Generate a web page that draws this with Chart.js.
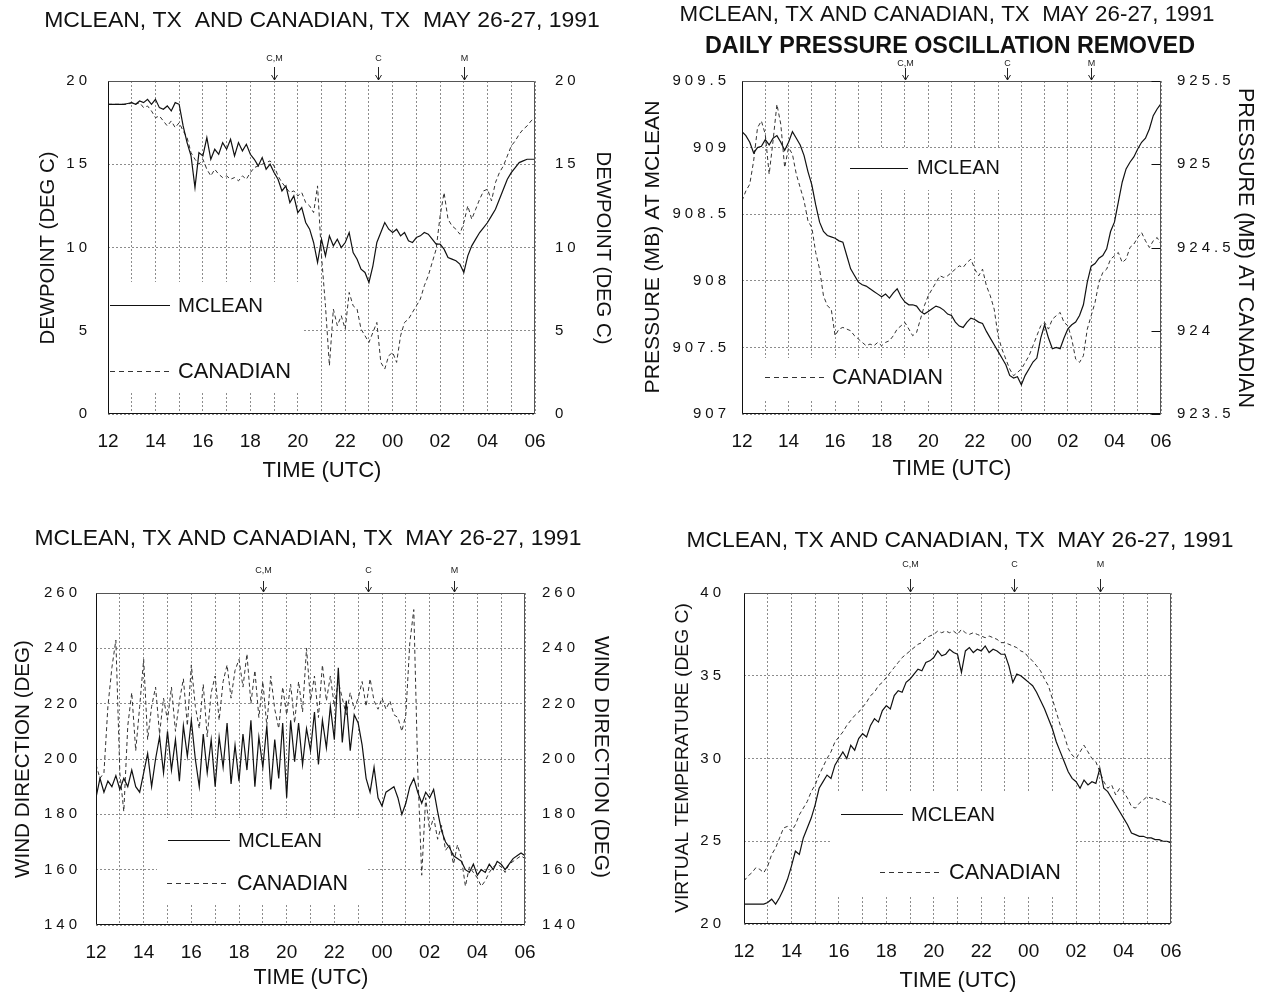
<!DOCTYPE html>
<html lang="en">
<head>
<meta charset="utf-8" />
<meta name="viewport" content="width=device-width" />
<title>McLean, TX and Canadian, TX - May 26-27, 1991</title>
<script src="https://cdn.jsdelivr.net/npm/chart.js@4.4.1/dist/chart.umd.min.js"></script>
<style>
  html, body { margin: 0; padding: 0; background: #fff; }
  #wrap { position: relative; width: 1268px; height: 993px; overflow: hidden; }
  #wrap canvas { position: absolute; left: 0; top: 0; }
</style>
</head>
<body>
<div id="wrap">
  <canvas id="cDew" width="1268" height="993"></canvas>
  <canvas id="cPres" width="1268" height="993"></canvas>
  <canvas id="cDir" width="1268" height="993"></canvas>
  <canvas id="cTv" width="1268" height="993"></canvas>
</div>

<script>
// sampling: one value every 10 minutes from 12 UTC (26 May) to 06 UTC (27 May)
const SAMPLE_START = 12;
const SAMPLE_STEP = 1 / 6;

const seriesNames = ['MCLEAN', 'CANADIAN'];

const xTickLabels = ['12', '14', '16', '18', '20', '22', '00', '02', '04', '06'];
const dewTickLabels = ['0', '5', '10', '15', '20'];
const presMcTickLabels = ['907', '907.5', '908', '908.5', '909', '909.5'];
const presCaTickLabels = ['923.5', '924', '924.5', '925', '925.5'];
const dirTickLabels = ['140', '160', '180', '200', '220', '240', '260'];
const tvTickLabels = ['20', '25', '30', '35', '40'];

// arrows along the top edge (hours after 00 UTC May 26)
const markTimes = [19, 23.4, 27];
const markLabels = ['C,M', 'C', 'M'];

// dewpoint (deg C)
const mcDew = [
  18.6, 18.6, 18.6, 18.6, 18.6, 18.65,
  18.7, 18.6, 18.8, 18.7, 18.9, 18.6,
  18.9, 18.4, 18.3, 18.5, 18.2, 18.7,
  18.6, 17.3, 16.3, 15.5, 13.6, 15.7,
  15.5, 16.6, 15.3, 15.9, 15.6, 16.3,
  15.9, 16.5, 15.5, 16.3, 15.8, 16.2,
  15.6, 15.3, 14.9, 15.4, 14.7, 15.0,
  14.5, 14.1, 13.4, 13.7, 12.7, 13.1,
  12.1, 12.4, 11.5, 11.1, 10.3, 9.1,
  10.5, 9.5, 10.7, 10.1, 10.5, 10.0,
  10.3, 10.9, 9.7, 9.3, 8.7, 8.5,
  7.9, 8.9, 10.3, 10.9, 11.5, 11.1,
  10.9, 11.1, 10.7, 10.9, 10.4, 10.3,
  10.6, 10.7, 10.9, 10.8, 10.5, 10.2,
  10.2, 9.9, 9.4, 9.3, 9.2, 9.0,
  8.5, 9.5, 10.1, 10.5, 10.9, 11.2,
  11.5, 11.9, 12.3, 12.9, 13.5, 14.1,
  14.5, 14.8, 15.1, 15.2, 15.3, 15.3,
  15.3
];
const caDew = [
  18.6, 18.6, 18.6, 18.6, 18.6, 18.6,
  18.7, 18.6, 18.7, 18.4, 18.5, 18.2,
  17.8, 17.9, 17.6, 17.3, 17.6, 17.2,
  17.5, 17.0, 16.6, 15.7, 15.3, 15.0,
  15.3, 14.7, 14.3, 14.7, 14.4, 14.2,
  14.3, 14.1, 14.2, 14.0, 14.3, 14.1,
  14.5, 14.8, 14.9, 15.0, 15.1, 15.2,
  14.9, 14.3, 13.9, 13.6, 13.3, 13.4,
  13.1, 13.3, 12.7, 12.5, 12.1, 13.7,
  9.5, 6.5, 2.9, 6.3, 5.3, 5.9,
  5.1, 7.3, 6.5, 6.3, 5.1, 4.7,
  4.3, 4.9, 5.5, 3.1, 2.7, 3.5,
  3.7, 3.1, 4.7, 5.5, 5.7, 6.1,
  6.5, 6.9, 7.7, 8.3, 9.1, 9.9,
  11.9, 13.3, 11.7, 11.3, 11.1, 10.8,
  11.5, 12.5, 11.7, 12.3, 12.9, 13.4,
  13.5, 12.8, 13.9, 14.5, 14.9, 15.5,
  16.1, 16.4, 16.8, 17.1, 17.3, 17.6,
  17.8
];

// pressure (mb), daily oscillation removed
const mcPres = [
  909.12, 909.09, 909.04, 908.96, 909.00, 909.01,
  909.06, 909.02, 909.07, 909.09, 909.04, 908.98,
  909.04, 909.12, 909.07, 909.02, 908.94, 908.82,
  908.72, 908.57, 908.44, 908.37, 908.34, 908.33,
  908.32, 908.30, 908.29, 908.19, 908.09, 908.04,
  907.99, 907.97, 907.96, 907.94, 907.92, 907.90,
  907.88, 907.90, 907.87, 907.91, 907.94, 907.88,
  907.84, 907.82, 907.82, 907.81, 907.77, 907.75,
  907.77, 907.79, 907.81, 907.80, 907.78, 907.75,
  907.74, 907.69, 907.66, 907.65, 907.69, 907.72,
  907.71, 907.69, 907.68, 907.62, 907.57, 907.52,
  907.47, 907.42, 907.37, 907.29, 907.27, 907.28,
  907.22, 907.29, 907.34, 907.39, 907.42, 907.57,
  907.67, 907.57, 907.49, 907.50, 907.49, 907.57,
  907.64, 907.67, 907.69, 907.74, 907.82, 907.99,
  908.11, 908.13, 908.17, 908.19, 908.24, 908.37,
  908.44, 908.59, 908.74, 908.84, 908.89, 908.93,
  908.99, 909.04, 909.07, 909.14, 909.24, 909.29,
  909.33
];
const caPres = [
  924.78, 924.84, 924.88, 925.02, 925.22, 925.26,
  925.18, 924.94, 925.14, 925.36, 925.24, 924.98,
  925.10, 925.06, 924.94, 924.86, 924.78, 924.66,
  924.62, 924.47, 924.37, 924.21, 924.15, 924.13,
  923.97, 924.01, 924.02, 924.01, 924.00, 923.97,
  923.95, 923.93, 923.91, 923.92, 923.91, 923.93,
  923.91, 923.93, 923.94, 923.97, 924.01, 924.03,
  924.05, 924.01, 923.97, 923.99, 924.07, 924.15,
  924.21, 924.25, 924.29, 924.33, 924.32, 924.33,
  924.35, 924.37, 924.39, 924.38, 924.41, 924.43,
  924.37, 924.33, 924.37, 924.27, 924.21, 924.13,
  923.97, 923.89, 923.83, 923.77, 923.73, 923.75,
  923.77, 923.81, 923.85, 923.91, 923.97, 924.03,
  924.05, 924.01, 924.07, 924.09, 924.11, 924.05,
  924.03, 923.95, 923.83, 923.81, 923.85, 924.01,
  924.09, 924.17, 924.29, 924.35, 924.37, 924.43,
  924.45, 924.47, 924.41, 924.43, 924.50, 924.52,
  924.56, 924.59, 924.54, 924.50, 924.54, 924.56,
  924.52
];

// wind direction (deg)
const mcDir = [
  186, 193, 188, 192, 190, 194,
  189, 193, 190, 196, 190, 188,
  195, 202, 190, 200, 208, 195,
  210, 196, 207, 192, 212, 201,
  214, 200, 190, 209, 195, 207,
  190, 208, 197, 213, 191, 205,
  192, 209, 196, 214, 190, 208,
  197, 212, 189, 207, 193, 213,
  186, 214, 199, 213, 198, 211,
  203, 217, 198, 214, 204, 219,
  207, 233, 206, 221, 203, 216,
  213, 205, 193, 188, 197, 186,
  183, 188, 189, 190, 186, 180,
  184, 190, 193, 188, 184, 188,
  186, 189, 181, 174, 170, 168,
  165, 164, 163, 160, 159, 162,
  158, 160, 159, 162, 160, 163,
  162, 160, 162, 164, 165, 166,
  165
];
const caDir = [
  198, 193, 195, 219, 233, 243,
  195, 181, 212, 224, 203, 219,
  236, 207, 219, 226, 209, 222,
  214, 226, 210, 221, 229, 212,
  234, 219, 211, 227, 208, 224,
  230, 214, 228, 234, 222, 232,
  236, 226, 238, 220, 232, 215,
  228, 212, 230, 218, 211, 226,
  216, 227, 213, 228, 217, 240,
  221, 230, 215, 234, 221, 230,
  219, 228, 222, 216, 224, 218,
  222, 228, 219, 229, 221, 218,
  222, 218, 221, 216, 215, 210,
  216, 242, 254, 196, 158, 186,
  174, 179, 171, 176, 167, 169,
  162, 169, 164, 154, 161, 159,
  157, 154, 156, 159, 161, 162,
  161, 159, 162, 163, 164, 165,
  164
];

// virtual temperature (deg C)
const mcTv = [
  21.2, 21.2, 21.2, 21.2, 21.2, 21.2,
  21.3, 21.5, 21.2, 21.6, 22.1, 22.7,
  23.5, 24.4, 24.2, 25.2, 25.8, 26.4,
  27.2, 28.2, 28.6, 29.0, 28.8, 29.6,
  30.0, 30.4, 30.0, 30.8, 30.5, 31.2,
  31.5, 31.3, 32.0, 32.4, 32.2, 32.9,
  33.2, 33.0, 33.8, 34.1, 34.0, 34.6,
  34.8, 35.1, 35.4, 35.3, 35.8, 35.9,
  36.1, 36.5, 36.2, 36.3, 36.6, 36.4,
  36.3, 35.2, 36.5, 36.7, 36.4, 36.6,
  36.5, 36.8, 36.4, 36.6, 36.5, 36.3,
  36.3, 35.6, 34.6, 35.1, 35.0, 34.8,
  34.6, 34.4, 34.0, 33.5, 33.0, 32.4,
  31.8, 31.0, 30.4, 29.8, 29.2, 28.8,
  28.6, 28.2, 28.7, 28.4, 28.6, 28.5,
  29.4, 28.2, 28.0, 27.6, 27.2, 26.8,
  26.4, 26.0, 25.5, 25.4, 25.3, 25.3,
  25.2, 25.2, 25.1, 25.1, 25.0, 25.0,
  24.9
];
const caTv = [
  22.6, 22.9, 23.1, 23.4, 23.3, 23.1,
  23.5, 24.2, 24.6, 25.2, 25.8, 25.9,
  25.6, 26.0, 26.6, 27.0, 27.4, 28.0,
  28.4, 29.0, 29.5, 30.0, 30.4, 31.0,
  31.3, 31.6, 32.0, 32.3, 32.6, 32.8,
  33.1, 33.4, 33.8, 34.0, 34.4, 34.6,
  34.9, 35.2, 35.5, 35.8, 36.1, 36.3,
  36.5, 36.7, 36.9, 37.0, 37.3, 37.4,
  37.5, 37.7, 37.6, 37.7, 37.6, 37.7,
  37.5, 37.8, 37.6, 37.5, 37.6, 37.5,
  37.4, 37.3, 37.4, 37.3, 37.2, 37.0,
  37.0, 36.9, 36.8, 36.7, 36.5, 36.4,
  36.1, 35.9, 35.6, 35.3, 34.8, 34.4,
  33.6, 32.8, 32.0, 31.4, 30.6, 30.2,
  30.0, 30.4, 30.8, 30.4, 30.0, 29.8,
  29.2, 28.6, 28.2, 28.4, 27.8, 28.2,
  28.0, 27.6, 27.1, 27.0, 27.3, 27.5,
  27.7, 27.6, 27.6, 27.5, 27.4, 27.3,
  27.2
];

const TITLE_A = 'MCLEAN, TX  AND CANADIAN, TX  MAY 26-27, 1991';
const TITLE_B = 'MCLEAN, TX AND CANADIAN, TX  MAY 26-27, 1991';

const FONT = '"Liberation Sans", Arial, Helvetica, sans-serif';
const W = 1268, H = 993;
const AXW = 90, AXH = 40;   // reserved width of y scales / height of x scale
const INK = '#111';
const GRID = '#8c8c8c';

function pts(arr) {
  return arr.map((v, i) => ({ x: SAMPLE_START + i * SAMPLE_STEP, y: v }));
}

// page layout of each panel (plot rectangle, text and legend placement)
const panels = [
  {
    id: 'cDew', plot: { l: 108, t: 81, r: 535, b: 414 },
    y: { min: 0, max: 20, step: 5, labels: dewTickLabels, pad: 17 },
    y2: { min: 0, max: 20, step: 5, labels: dewTickLabels, pad: 20 },
    series: [mcDew, caDew], caOnRight: false,
    arrow: { label: 22, shaft: 14 },
    texts: [
      { text: TITLE_A, cx: 322, cy: 20, w: 556 },
      { text: 'TIME (UTC)', cx: 322, cy: 470, w: 119 },
      { text: 'DEWPOINT (DEG C)', cx: 47, cy: 248, w: 193, rot: -1 },
      { text: 'DEWPOINT (DEG C)', cx: 604, cy: 248, w: 193, rot: 1 }
    ],
    legend: [
      { x1: 110, x2: 170, y: 305, dash: false, tx: 178, w: 85 },
      { x1: 110, x2: 170, y: 371, dash: true, tx: 178, w: 113 }
    ],
    blank: [[109, 282, 303, 393]]
  },
  {
    id: 'cPres', plot: { l: 742, t: 81, r: 1161, b: 414 },
    y: { min: 907, max: 909.5, step: 0.5, labels: presMcTickLabels, pad: 12 },
    y2: { min: 923.5, max: 925.5, step: 0.5, labels: presCaTickLabels, pad: 16 },
    series: [mcPres, caPres], caOnRight: true, inTicks: 9,
    arrow: { label: 17, shaft: 13 },
    texts: [
      { text: TITLE_B, cx: 947, cy: 14, w: 535 },
      { text: 'DAILY PRESSURE OSCILLATION REMOVED', cx: 950, cy: 46, w: 490, weight: 'bold' },
      { text: 'TIME (UTC)', cx: 952, cy: 468, w: 119 },
      { text: 'PRESSURE (MB) AT MCLEAN', cx: 652, cy: 247, w: 293, rot: -1 },
      { text: 'PRESSURE (MB) AT CANADIAN', cx: 1246, cy: 248, w: 320, rot: 1 }
    ],
    legend: [
      { x1: 850, x2: 908, y: 168, dash: false, tx: 917, w: 83 },
      { x1: 765, x2: 825, y: 377, dash: true, tx: 832, w: 111 }
    ],
    blank: [[838, 148, 1005, 190], [743, 358, 950, 400]]
  },
  {
    id: 'cDir', plot: { l: 96, t: 593, r: 525, b: 925 },
    y: { min: 140, max: 260, step: 20, labels: dirTickLabels, pad: 15 },
    y2: { min: 140, max: 260, step: 20, labels: dirTickLabels, pad: 17 },
    series: [mcDir, caDir], caOnRight: false,
    arrow: { label: 22, shaft: 12 },
    texts: [
      { text: TITLE_B, cx: 308, cy: 538, w: 547 },
      { text: 'TIME (UTC)', cx: 311, cy: 977, w: 115 },
      { text: 'WIND DIRECTION (DEG)', cx: 22, cy: 759, w: 238, rot: -1 },
      { text: 'WIND DIRECTION (DEG)', cx: 602, cy: 757, w: 242, rot: 1 }
    ],
    legend: [
      { x1: 168, x2: 230, y: 840, dash: false, tx: 238, w: 84 },
      { x1: 167, x2: 230, y: 883, dash: true, tx: 237, w: 111 }
    ],
    blank: [[157, 818, 367, 905]]
  },
  {
    id: 'cTv', plot: { l: 744, t: 593, r: 1171, b: 924 },
    y: { min: 20, max: 40, step: 5, labels: tvTickLabels, pad: 19 },
    y2: null,
    series: [mcTv, caTv], caOnRight: false,
    arrow: { label: 28, shaft: 14 },
    texts: [
      { text: TITLE_B, cx: 960, cy: 540, w: 547 },
      { text: 'TIME (UTC)', cx: 958, cy: 980, w: 117 },
      { text: 'VIRTUAL TEMPERATURE (DEG C)', cx: 682, cy: 758, w: 310, rot: -1 }
    ],
    legend: [
      { x1: 841, x2: 903, y: 814, dash: false, tx: 911, w: 84 },
      { x1: 880, x2: 941, y: 872, dash: true, tx: 949, w: 112 }
    ],
    blank: [[831, 792, 1075, 895]]
  }
];

function fitFont(ctx, text, weight, width) {
  ctx.font = weight + ' 20px ' + FONT;
  const size = 20 * width / ctx.measureText(text).width;
  ctx.font = weight + ' ' + size.toFixed(2) + 'px ' + FONT;
}

function decor(p) {
  return {
    id: 'decor',
    beforeDatasetsDraw(chart) {
      const ctx = chart.ctx;
      ctx.save();
      ctx.fillStyle = '#fff';
      p.blank.forEach(([x1, y1, x2, y2]) => ctx.fillRect(x1, y1, x2 - x1, y2 - y1));
      ctx.restore();
    },
    afterDatasetsDraw(chart) {
      // y tick numbers in the original are widely spaced
      chart.ctx.letterSpacing = '4px';
    },
    afterDraw(chart) {
      const ctx = chart.ctx;
      const a = chart.chartArea;
      const xs = chart.scales.x;
      ctx.letterSpacing = '0px';
      ctx.save();

      // frame
      const L = Math.round(a.left) + 0.5, R = Math.round(a.right) - 0.5;
      const T = Math.round(a.top) + 0.5, B = Math.round(a.bottom) - 0.5;
      ctx.lineWidth = 1;
      ctx.strokeStyle = '#555';
      ctx.beginPath();
      ctx.moveTo(L, T); ctx.lineTo(R, T); ctx.lineTo(R, B);
      ctx.stroke();
      ctx.strokeStyle = INK;
      ctx.beginPath();
      ctx.moveTo(L, T); ctx.lineTo(L, B); ctx.lineTo(R, B);
      ctx.stroke();

      // inward ticks of the right-hand scale
      if (p.inTicks && chart.scales.y2) {
        const s = chart.scales.y2;
        ctx.strokeStyle = INK;
        ctx.beginPath();
        s.ticks.forEach(t => {
          const y = Math.round(s.getPixelForValue(t.value)) + 0.5;
          ctx.moveTo(R - p.inTicks, y); ctx.lineTo(R, y);
        });
        ctx.stroke();
      }

      // event arrows on the top edge
      ctx.strokeStyle = '#222';
      ctx.fillStyle = '#222';
      ctx.font = '9px ' + FONT;
      ctx.textAlign = 'center';
      ctx.textBaseline = 'middle';
      markTimes.forEach((t, i) => {
        const x = Math.round(xs.getPixelForValue(t)) + 0.5;
        ctx.beginPath();
        ctx.moveTo(x, a.top - p.arrow.shaft); ctx.lineTo(x, a.top - 1);
        ctx.moveTo(x - 3, a.top - 6); ctx.lineTo(x, a.top - 1); ctx.lineTo(x + 3, a.top - 6);
        ctx.stroke();
        ctx.fillText(markLabels[i], x, a.top - p.arrow.label);
      });

      // legend
      ctx.fillStyle = INK;
      p.legend.forEach((lg, i) => {
        ctx.strokeStyle = lg.dash ? '#333' : INK;
        ctx.lineWidth = 1;
        ctx.setLineDash(lg.dash ? [5, 4] : []);
        ctx.beginPath();
        ctx.moveTo(lg.x1, lg.y + 0.5); ctx.lineTo(lg.x2, lg.y + 0.5);
        ctx.stroke();
        ctx.setLineDash([]);
        fitFont(ctx, seriesNames[i], 'normal', lg.w);
        ctx.textAlign = 'left';
        ctx.textBaseline = 'middle';
        ctx.fillText(seriesNames[i], lg.tx, lg.y + 1);
      });

      // titles
      p.texts.forEach(tx => {
        fitFont(ctx, tx.text, tx.weight || 'normal', tx.w);
        ctx.textAlign = 'center';
        ctx.textBaseline = 'middle';
        ctx.save();
        ctx.translate(tx.cx, tx.cy);
        if (tx.rot) ctx.rotate(tx.rot * Math.PI / 2);
        ctx.fillText(tx.text, 0, 1);
        ctx.restore();
      });
      ctx.restore();
    }
  };
}

function yAxis(position, cfg, drawGrid) {
  return {
    type: 'linear',
    position,
    min: cfg.min,
    max: cfg.max,
    ticks: {
      stepSize: cfg.step,
      padding: cfg.pad,
      z: 1,
      color: INK,
      font: { family: FONT, size: 15 },
      callback: (v) => cfg.labels[Math.round((v - cfg.min) / cfg.step)]
    },
    grid: drawGrid
      ? { color: GRID, lineWidth: 1, drawTicks: false }
      : { drawOnChartArea: false, drawTicks: false },
    border: { display: false, dash: [2, 2] },
    afterFit: (s) => { s.width = AXW; }
  };
}

function makeChart(p) {
  const hasRight = !!p.y2;
  const scales = {
    x: {
      type: 'linear',
      min: 12,
      max: 30,
      ticks: {
        stepSize: 1,
        autoSkip: false,
        maxRotation: 0,
        padding: 16,
        color: INK,
        font: { family: FONT, size: 19 },
        callback: (v) => {
          const h = Math.round(v);
          return h % 2 === 0 ? xTickLabels[(h - 12) / 2] : '';
        }
      },
      grid: { color: GRID, lineWidth: 1, drawTicks: false },
      border: { display: false, dash: [2, 2] },
      afterFit: (s) => { s.height = AXH; }
    },
    y: yAxis('left', p.y, true)
  };
  if (hasRight) scales.y2 = yAxis('right', p.y2, false);

  new Chart(document.getElementById(p.id), {
    type: 'line',
    data: {
      datasets: [
        {
          label: seriesNames[0],
          data: pts(p.series[0]),
          borderColor: INK,
          borderWidth: 1.2,
          pointRadius: 0,
          tension: 0,
          yAxisID: 'y'
        },
        {
          label: seriesNames[1],
          data: pts(p.series[1]),
          borderColor: '#333',
          borderWidth: 1,
          borderDash: [4, 3],
          pointRadius: 0,
          tension: 0,
          yAxisID: p.caOnRight ? 'y2' : 'y'
        }
      ]
    },
    options: {
      responsive: false,
      animation: false,
      events: [],
      layout: {
        padding: {
          left: p.plot.l - AXW,
          top: p.plot.t,
          right: W - p.plot.r - (hasRight ? AXW : 0),
          bottom: H - p.plot.b - AXH
        }
      },
      plugins: { legend: { display: false }, tooltip: { enabled: false } },
      scales
    },
    plugins: [decor(p)]
  });
}

panels.forEach(makeChart);
</script>
</body>
</html>
